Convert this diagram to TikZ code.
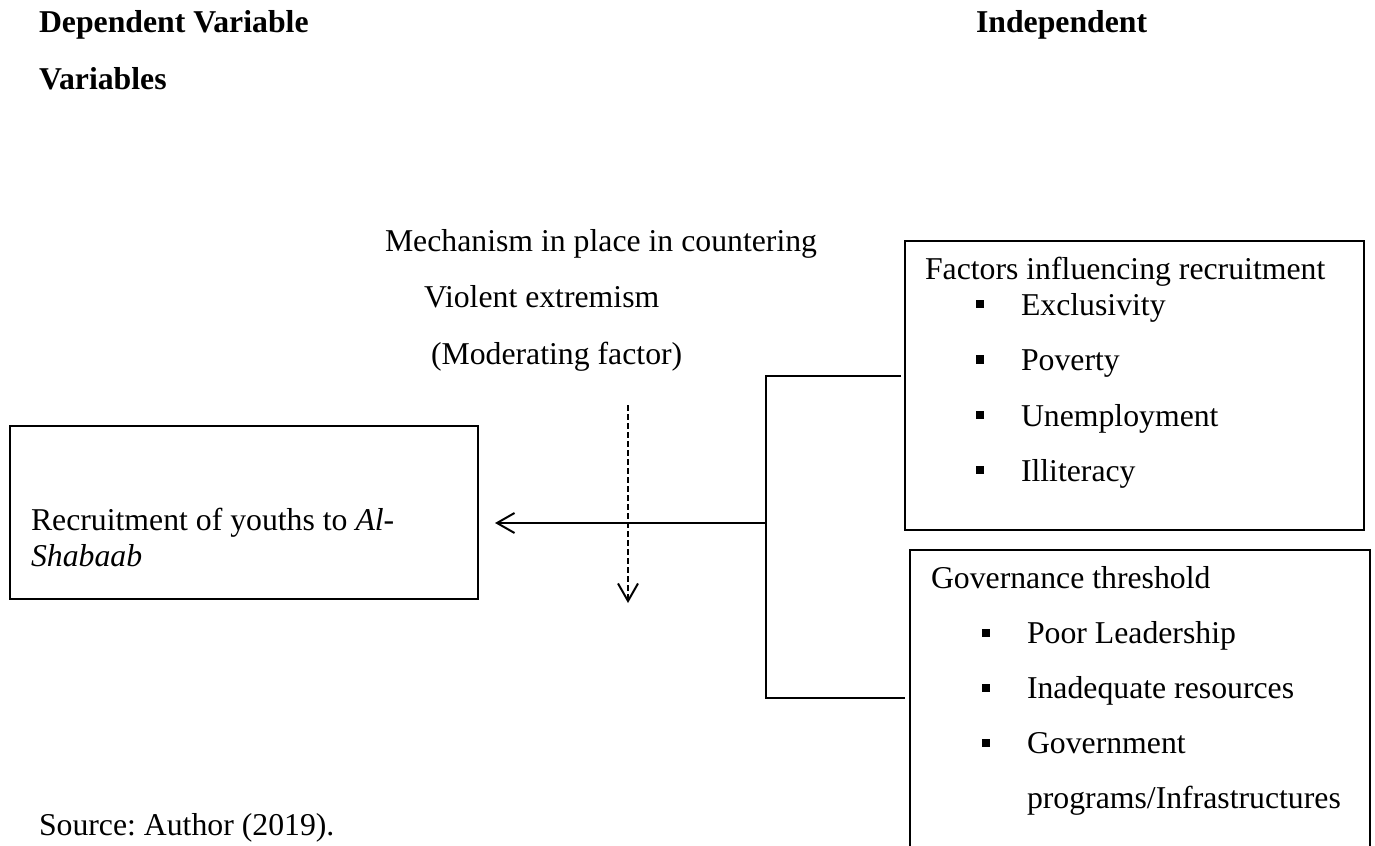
\documentclass[tikz,border=0pt]{standalone}
\usepackage{fontspec}
\setmainfont{Liberation Serif}
\usetikzlibrary{arrows.meta}
\frenchspacing
\begin{document}
\begin{tikzpicture}[x=0.4pt,y=-0.4pt, line width=0.8pt,
 txt/.style={anchor=base west, inner sep=0pt, font=\fontsize{12.7}{15}\selectfont},
 hdr/.style={anchor=base west, inner sep=0pt, font=\fontsize{12.7}{15}\selectfont\bfseries},
 box/.style={draw, line width=0.8pt, inner sep=0pt, anchor=north west},
 bul/.style={fill, inner sep=0pt, minimum size=3.2pt, anchor=south west},
 tip/.style={-{Straight Barb[length=7pt,width=8pt,line width=0.8pt]}}]
\useasboundingbox (0,0) rectangle (1375,846);
\clip (0,0) rectangle (1375,846);
% headers
\node[hdr] (hdep) at (38,33) {Dependent Variable};
\node[hdr] (hvar) at (38,90) {Variables};
\node[hdr] (hind) at (975,33) {Independent};
% moderating text
\node[txt] (mech1) at (384,252) {Mechanism in place in countering};
\node[txt] (mech2) at (423,308) {Violent extremism};
\node[txt] (mech3) at (430,365) {(Moderating factor)};
% dependent box
\node[box, minimum width=187.2pt, minimum height=69pt] (dep) at (9,425) {};
\node[txt] (dept1) at (30,530) {Recruitment of youths to \textit{Al-}};
\node[txt] (dept2) at (30,566) {\textit{Shabaab}};
% factors box
\node[box, minimum width=183.6pt, minimum height=115.6pt] (fbox) at (904,240) {};
\node[txt] (ftitle) at (924,280) {Factors influencing recruitment};
\node[bul] (fb1) at (975,309.5) {};
\node[txt] (f1) at (1020,316) {Exclusivity};
\node[bul] (fb2) at (975,364.5) {};
\node[txt] (f2) at (1020,371) {Poverty};
\node[bul] (fb3) at (975,419.5) {};
\node[txt] (f3) at (1020,426) {Unemployment};
\node[bul] (fb4) at (975,474.5) {};
\node[txt] (f4) at (1020,481) {Illiteracy};
% governance box
\node[box, minimum width=184pt, minimum height=140pt] (gbox) at (909,549) {};
\node[txt] (gtitle) at (930,588) {Governance threshold};
\node[bul] (gb1) at (981,637.5) {};
\node[txt] (g1) at (1026,643) {Poor Leadership};
\node[bul] (gb2) at (981,692.5) {};
\node[txt] (g2) at (1026,698) {Inadequate resources};
\node[bul] (gb3) at (981,747.5) {};
\node[txt] (g3) at (1026,753) {Government};
\node[txt] (g4) at (1026,808) {programs/Infrastructures};
% source
\node[txt] (src) at (38,835) {Source: Author (2019).};
% bracket connector
\coordinate (jt) at (766,376);
\coordinate (jm) at (766,523);
\coordinate (jb) at (766,698);
\draw[shorten <=1.2pt] (fbox.west |- jt) -- (jt) -- (jb) -- ([xshift=-1.6pt]gbox.west |- jb);
\draw[tip, shorten >=6.4pt] (jm) -- (dep.east |- jm);
% dashed moderating arrow
\coordinate (dtop) at (628,405);
\coordinate (dbot) at (628,603);
\draw[tip, dash pattern=on 2.4pt off 1.2pt] (dtop) -- (dbot);
\end{tikzpicture}
\end{document}
